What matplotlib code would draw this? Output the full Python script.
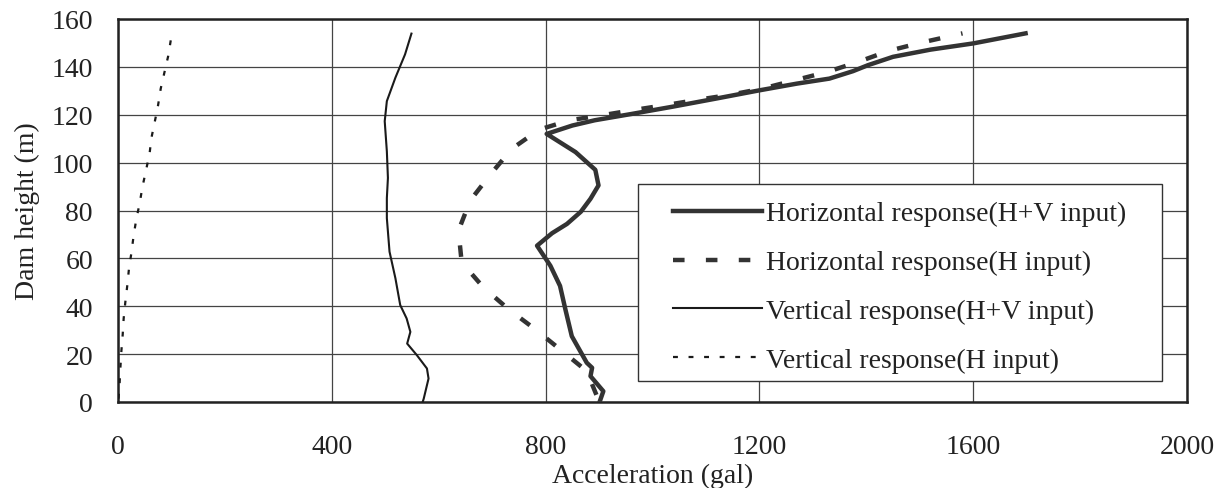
import matplotlib
matplotlib.use("Agg")
import matplotlib.pyplot as plt
from matplotlib.patches import Rectangle

# Horizontal response (H+V input)
hv_h_acc = [901, 908, 884, 887, 877, 849, 837, 827, 809, 784, 812, 840, 866, 884, 899, 893, 856, 802, 850, 892, 960, 1036, 1120, 1200, 1270, 1331, 1375, 1403, 1450, 1520, 1600, 1698]
hv_h_hgt = [0, 4.5, 10.8, 14.3, 16.4, 27.5, 38.7, 48.5, 56.9, 65.3, 70.5, 74.4, 79.5, 84.9, 90.5, 97, 104.4, 112, 115.5, 117.7, 120.3, 123.3, 126.8, 130.2, 133, 135.1, 138.2, 140.7, 144.2, 147.2, 149.8, 154]

# Horizontal response (H input)
h_h_acc = [895, 877, 827, 781, 731, 684, 643, 637, 659, 698, 737, 788, 845, 906, 968, 1029, 1086, 1147, 1205, 1266, 1327, 1385, 1442, 1504, 1580]
h_h_hgt = [3, 12.9, 22, 30.3, 38.7, 47.8, 58.3, 71.6, 84.2, 95.4, 105.8, 113.8, 117.7, 119.8, 122.1, 124.2, 126.3, 128.4, 130.9, 134.4, 137.9, 142.1, 146.7, 150.2, 154]

# Vertical response (H+V input)
hv_v_acc = [570, 572, 581, 578, 559, 541, 547, 540, 528, 519, 508, 503, 503, 505, 503, 499, 503, 519, 537, 549]
hv_v_hgt = [0, 1.4, 9.8, 14, 19.6, 24.4, 29.3, 34.9, 40.5, 51.7, 62.8, 76.8, 85.2, 93.6, 104.7, 117.3, 125.7, 135.5, 145.2, 153.9]

# Vertical response (H input)
h_v_acc = [1, 3, 4.4, 6.3, 8.8, 10.6, 13.8, 17.5, 20.6, 25, 29, 34, 40.6, 45.6, 52, 59, 62.5, 69, 75, 80, 87.5, 94, 99]
h_v_hgt = [1.4, 7.7, 14, 21.2, 28.2, 34.9, 41.9, 48.9, 55.9, 62.2, 69.1, 76.1, 83.1, 89.7, 96.4, 103.6, 110.3, 117.3, 124, 131, 138.3, 144.6, 151.5]

labels = ["Horizontal response(H+V input)", "Horizontal response(H input)",
          "Vertical response(H+V input)", "Vertical response(H input)"]
x_ticks = [0, 400, 800, 1200, 1600, 2000]
y_ticks = [0, 20, 40, 60, 80, 100, 120, 140, 160]

plt.rcParams['font.family'] = ['Liberation Serif', 'DejaVu Serif']

W, H = 1214, 489
fig = plt.figure(figsize=(W / 100, H / 100), dpi=100)
ax = fig.add_axes([118 / W, 86 / H, (1187 - 118) / W, (403 - 20) / H])

col = '#333333'
ax.plot(hv_h_acc, hv_h_hgt, color=col, lw=3.2, solid_joinstyle='round', label=labels[0], zorder=4)
ax.plot(h_h_acc, h_h_hgt, color=col, lw=3.2, dashes=(2.6, 4.8), label=labels[1], zorder=3)
ax.plot(hv_v_acc, hv_v_hgt, color='#1a1a1a', lw=1.5, label=labels[2], zorder=3)
ax.plot(h_v_acc, h_v_hgt, color='#1a1a1a', lw=1.6, dashes=(2.2, 4.8), label=labels[3], zorder=3)

ax.set_xlim(0, 2000)
ax.set_ylim(0, 160)
ax.set_xticks(x_ticks)
ax.set_yticks(y_ticks)
ax.tick_params(axis='both', length=0, labelsize=20, colors='#222222')
ax.tick_params(axis='y', pad=18)
ax.tick_params(axis='x', pad=23)
ax.grid(True, color='#444444', lw=0.9)
ax.set_axisbelow(True)
for s in ax.spines.values():
    s.set_linewidth(1.8)
    s.set_color('#222222')

ax.set_xlabel("Acceleration (gal)", fontsize=20, color='#222222', labelpad=3)
ax.set_ylabel("Dam height (m)", fontsize=20, color='#222222', labelpad=8)

# legend frame
box = Rectangle((638 / W, 1 - 382 / H), (1162 - 638) / W, (382 - 185) / H,
                transform=fig.transFigure, facecolor='white', edgecolor='#333333',
                lw=1.0, zorder=5, clip_on=False)
ax.add_patch(box)

leg = ax.legend(loc='upper left', bbox_to_anchor=(673 / W, 1 - 202 / H),
                bbox_transform=fig.transFigure,
                fontsize=20, frameon=False,
                handlelength=3.2, handletextpad=0.15, labelspacing=0.84,
                borderpad=0, borderaxespad=0)
leg.set_zorder(6)
for t in leg.get_texts():
    t.set_color('#222222')

fig.savefig("out.png", dpi=100, facecolor='white')
